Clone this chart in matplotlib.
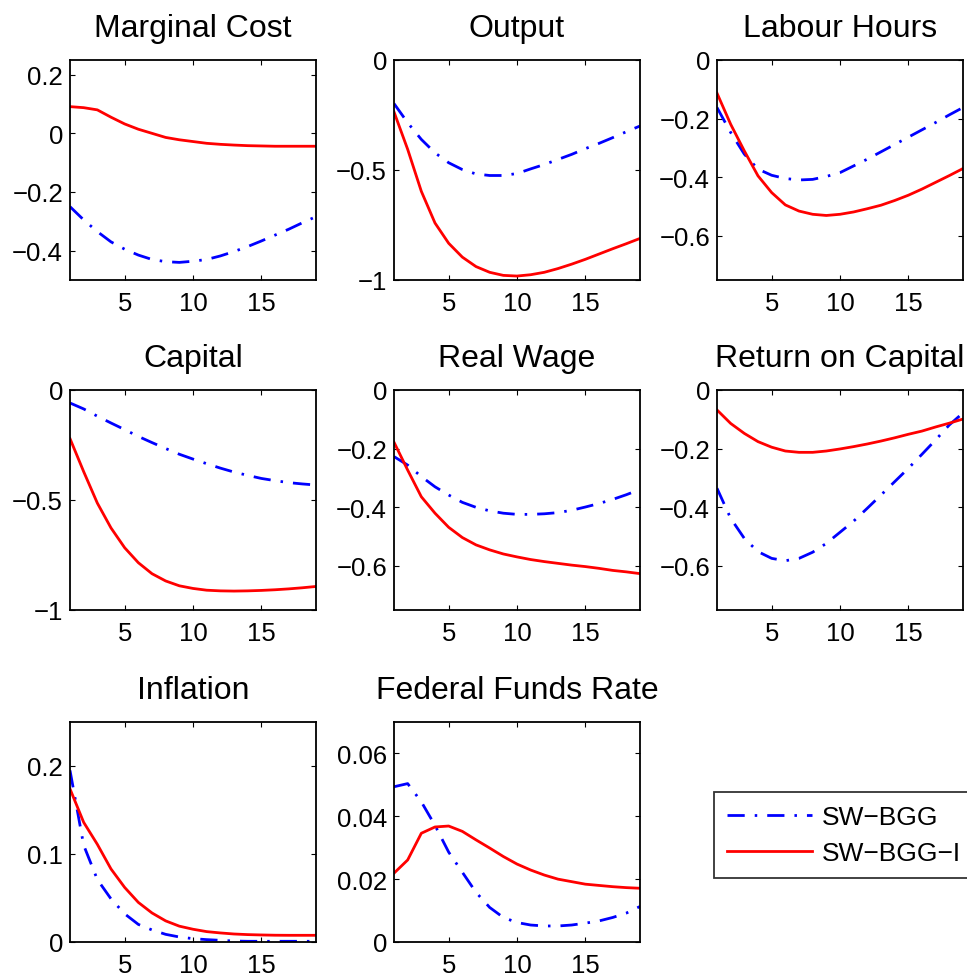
import matplotlib
matplotlib.use("Agg")
import matplotlib.pyplot as plt
from matplotlib.ticker import FuncFormatter
import numpy as np

periods = list(range(1, 20))

titles = ["Marginal Cost", "Output", "Labour Hours", "Capital", "Real Wage",
          "Return on Capital", "Inflation", "Federal Funds Rate"]

sw_bgg = [
    # Marginal Cost
    [-0.25, -0.295, -0.335, -0.37, -0.395, -0.415, -0.43, -0.4375, -0.44, -0.436,
     -0.43, -0.418, -0.403, -0.386, -0.367, -0.347, -0.327, -0.305, -0.284],
    # Output
    [-0.198, -0.285, -0.361, -0.422, -0.467, -0.498, -0.518, -0.525, -0.525, -0.516,
     -0.495, -0.475, -0.452, -0.429, -0.403, -0.379, -0.353, -0.326, -0.300],
    # Labour Hours
    [-0.162, -0.247, -0.321, -0.372, -0.393, -0.404, -0.409, -0.407, -0.397, -0.384,
     -0.361, -0.338, -0.313, -0.288, -0.263, -0.238, -0.213, -0.187, -0.162],
    # Capital
    [-0.059, -0.086, -0.119, -0.15, -0.18, -0.211, -0.239, -0.266, -0.292, -0.314,
     -0.335, -0.355, -0.373, -0.388, -0.402, -0.412, -0.421, -0.427, -0.432],
    # Real Wage
    [-0.227, -0.256, -0.295, -0.33, -0.358, -0.383, -0.40, -0.412, -0.42, -0.424,
     -0.424, -0.422, -0.418, -0.41, -0.399, -0.387, -0.373, -0.357, -0.339],
    # Return on Capital
    [-0.335, -0.4375, -0.506, -0.551, -0.574, -0.582, -0.574, -0.553, -0.523, -0.485,
     -0.447, -0.403, -0.358, -0.3125, -0.267, -0.219, -0.17, -0.119, -0.078],
    # Inflation
    [0.195, 0.11, 0.071, 0.049, 0.032, 0.02, 0.0137, 0.0087, 0.0057, 0.0038,
     0.0027, 0.0019, 0.0011, 0.0008, 0.0008, 0.0008, 0.0008, 0.0008, 0.0008],
    # Federal Funds Rate
    [0.0494, 0.0504, 0.0446, 0.0371, 0.0286, 0.0222, 0.0158, 0.011, 0.0078, 0.0062,
     0.0054, 0.0051, 0.0051, 0.0054, 0.006, 0.0067, 0.0078, 0.0092, 0.0113],
]

sw_bgg_i = [
    # Marginal Cost
    [0.091, 0.0875, 0.08, 0.055, 0.032, 0.014, 0.0, -0.014, -0.022, -0.028,
     -0.034, -0.0375, -0.04, -0.042, -0.043, -0.044, -0.044, -0.044, -0.044],
    # Output
    [-0.236, -0.406, -0.597, -0.741, -0.833, -0.896, -0.939, -0.965, -0.979, -0.982,
     -0.976, -0.965, -0.948, -0.928, -0.906, -0.882, -0.858, -0.835, -0.811],
    # Labour Hours
    [-0.113, -0.219, -0.31, -0.395, -0.452, -0.494, -0.515, -0.526, -0.53, -0.526,
     -0.518, -0.507, -0.495, -0.479, -0.461, -0.44, -0.417, -0.394, -0.370],
    # Capital
    [-0.221, -0.371, -0.514, -0.627, -0.717, -0.785, -0.835, -0.868, -0.89, -0.902,
     -0.91, -0.913, -0.914, -0.913, -0.911, -0.908, -0.904, -0.899, -0.893],
    # Real Wage
    [-0.178, -0.273, -0.364, -0.42, -0.468, -0.503, -0.528, -0.545, -0.559, -0.569,
     -0.578, -0.585, -0.591, -0.597, -0.602, -0.608, -0.615, -0.62, -0.626],
    # Return on Capital
    [-0.068, -0.114, -0.148, -0.176, -0.195, -0.208, -0.2125, -0.2125, -0.208, -0.201,
     -0.193, -0.184, -0.174, -0.163, -0.151, -0.14, -0.126, -0.113, -0.099],
    # Inflation
    [0.174, 0.136, 0.111, 0.083, 0.062, 0.045, 0.033, 0.024, 0.018, 0.0145,
     0.0118, 0.0103, 0.0091, 0.0084, 0.008, 0.0077, 0.0076, 0.0076, 0.0076],
    # Federal Funds Rate
    [0.0219, 0.0261, 0.0346, 0.0366, 0.0369, 0.0352, 0.0325, 0.0299, 0.0272, 0.0248,
     0.0229, 0.0213, 0.02, 0.0192, 0.0184, 0.018, 0.0176, 0.0173, 0.0171],
]

ylims = [(-0.5, 0.25), (-1, 0), (-0.75, 0), (-1, 0), (-0.75, 0), (-0.75, 0),
         (0, 0.25), (0, 0.07)]
yticks = [[-0.4, -0.2, 0, 0.2], [-1, -0.5, 0], [-0.6, -0.4, -0.2, 0],
          [-1, -0.5, 0], [-0.6, -0.4, -0.2, 0], [-0.6, -0.4, -0.2, 0],
          [0, 0.1, 0.2], [0, 0.02, 0.04, 0.06]]
xticks = [5, 10, 15]
legend_labels = ["SW\u2212BGG", "SW\u2212BGG\u2212I"]

plt.rcParams['font.family'] = ['Liberation Sans', 'DejaVu Sans']

W, H = 967, 979
fig = plt.figure(figsize=(W / 100, H / 100), dpi=100)

col_left = [70, 394, 717]
row_top = [61, 391, 723]
aw, ah = 246, 220

fmt = FuncFormatter(lambda v, p: ('%g' % v).replace('-', '\u2212'))
dashdot = (0, (6.2, 3.6, 0.9, 3.6))

lines = None
for i in range(8):
    r, c = divmod(i, 3)
    ax = fig.add_axes([col_left[c] / W, 1 - (row_top[r] + ah) / H, aw / W, ah / H])
    l1, = ax.plot(periods, sw_bgg[i], color='#0000ff', lw=2.0, linestyle=dashdot,
                  dash_capstyle='butt')
    l2, = ax.plot(periods, sw_bgg_i[i], color='#ff0000', lw=2.0)
    lines = (l1, l2)
    ax.set_xlim(1, 19)
    ax.set_ylim(*ylims[i])
    ax.set_xticks(xticks)
    ax.set_yticks(yticks[i])
    ax.yaxis.set_major_formatter(fmt)
    ax.tick_params(direction='in', length=3.5, width=0.8, top=True, right=True,
                   labelsize=18.5)
    ax.tick_params(axis='y', pad=5)
    ax.tick_params(axis='x', pad=8)
    for s in ax.spines.values():
        s.set_linewidth(1.3)
    ax.set_title(titles[i], fontsize=23, pad=17)

leg = fig.legend(lines, legend_labels, loc='upper left',
                 bbox_to_anchor=(714 / W, 1 - 793 / H), fontsize=19,
                 frameon=True, fancybox=False, edgecolor='black',
                 handlelength=3.2, handletextpad=0.4, borderpad=0.5,
                 borderaxespad=0.0, labelspacing=0.45)
leg.get_frame().set_linewidth(1.3)

fig.savefig("out.png", dpi=100)
